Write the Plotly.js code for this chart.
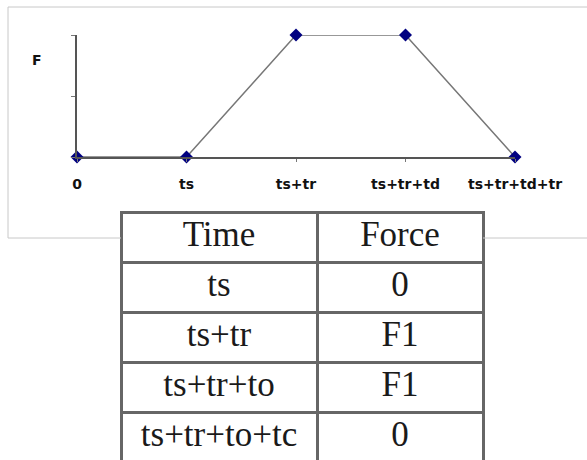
<!DOCTYPE html>
<html>
<head>
<meta charset="utf-8">
<script src="https://cdn.plot.ly/plotly-3.0.1.min.js"></script>
<style>
  html, body { margin: 0; padding: 0; overflow: hidden; background: #fff; }
  #grafico { width: 587px; height: 480px; }
</style>
</head>
<body>
<div id="grafico"></div>
<script>
// trapezoid load profile
const times = ['0', 'ts', 'ts+tr', 'ts+tr+td', 'ts+tr+td+tr'];
const force = [0, 0, 1, 1, 0];

// table beneath the chart
const tableHeader = ['Time', 'Force'];
const tableTimes = ['ts', 'ts+tr', 'ts+tr+to', 'ts+tr+to+tc'];
const tableForces = ['0', 'F1', 'F1', '0'];

const W = 587, H = 480;
const px = v => v / W;
const py = v => 1 - v / H;

const trace = {
    x: times,
    y: force,
    type: 'scatter',
    mode: 'lines+markers',
    line: { color: '#777', width: 1.5 },
    marker: { symbol: 'diamond', color: '#000080', size: 10 },
    cliponaxis: false,
    hoverinfo: 'skip'
};

const table = {
    type: 'table',
    domain: { x: [px(121), px(483)], y: [0, py(212)] },
    columnwidth: [196, 166],
    header: {
        values: tableHeader,
        align: 'center',
        height: 50,
        fill: { color: '#fff' },
        line: { color: '#666', width: 3 },
        font: { family: 'Liberation Serif', size: 35, color: '#1a1a1a' }
    },
    cells: {
        values: [tableTimes, tableForces],
        align: 'center',
        height: 50,
        fill: { color: '#fff' },
        line: { color: '#666', width: 3 },
        font: { family: 'Liberation Serif', size: 35, color: '#1a1a1a' }
    }
};

const boxLine = { color: '#c8c8c8', width: 1 };

const layout = {
    width: W,
    height: H,
    margin: { l: 0, r: 0, t: 0, b: 0 },
    paper_bgcolor: '#fff',
    plot_bgcolor: '#fff',
    showlegend: false,
    font: { family: 'DejaVu Sans', size: 14, color: '#111' },
    xaxis: {
        domain: [px(77), px(515)],
        type: 'category',
        range: [0, 4],
        showgrid: false,
        zeroline: false,
        showline: true,
        linecolor: '#555',
        linewidth: 2,
        ticks: 'outside',
        ticklen: 3,
        tickwidth: 1,
        tickcolor: '#777',
        ticklabelstandoff: 10,
        tickfont: { family: 'DejaVu Sans', size: 14, weight: 'bold', color: '#111' },
        fixedrange: true
    },
    yaxis: {
        domain: [py(157), py(35)],
        range: [0, 1],
        tickvals: [0, 0.5, 1],
        showticklabels: false,
        showgrid: false,
        zeroline: false,
        showline: true,
        linecolor: '#555',
        linewidth: 2,
        ticks: 'outside',
        ticklen: 4,
        tickwidth: 1,
        tickcolor: '#777',
        fixedrange: true
    },
    annotations: [{
        text: 'F',
        xref: 'paper', yref: 'paper',
        x: px(30), y: py(50),
        showarrow: false,
        font: { family: 'DejaVu Sans', size: 14, weight: 'bold', color: '#111' }
    }],
    shapes: [
        { type: 'line', xref: 'paper', yref: 'paper', x0: px(8), x1: 1.01, y0: py(7), y1: py(7), line: boxLine },
        { type: 'line', xref: 'paper', yref: 'paper', x0: px(8), x1: px(8), y0: py(7), y1: py(238), line: boxLine },
        { type: 'line', xref: 'paper', yref: 'paper', x0: px(8), x1: px(121), y0: py(238), y1: py(238), line: boxLine },
        { type: 'line', xref: 'paper', yref: 'paper', x0: px(483), x1: 1.01, y0: py(238), y1: py(238), line: boxLine }
    ]
};

Plotly.newPlot('grafico', [trace, table], layout, { displayModeBar: false, staticPlot: true });
</script>
</body>
</html>
